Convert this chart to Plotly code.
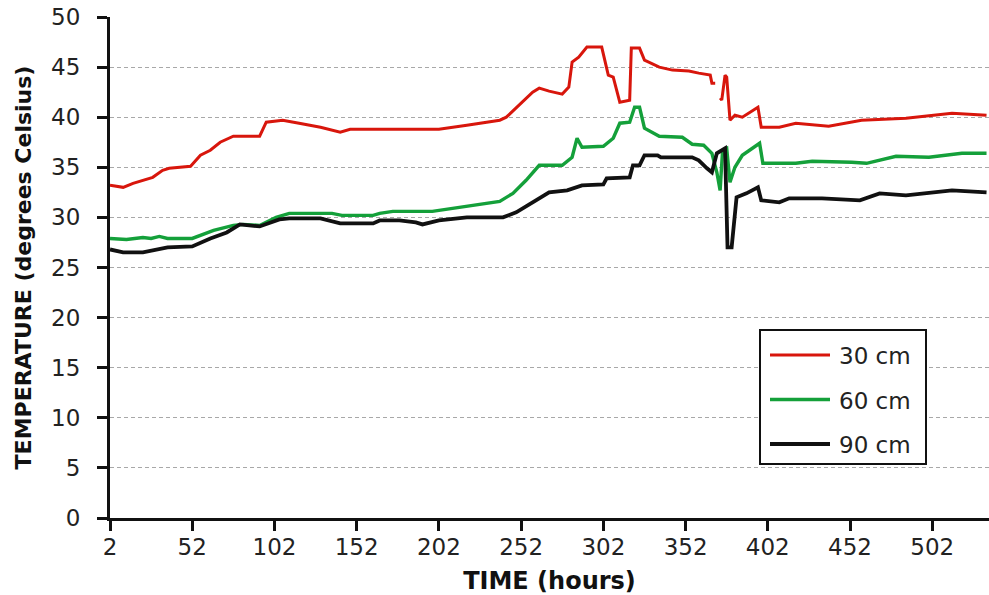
import plotly.graph_objects as go

# ---- data (hours, °C) ----
red_hours = [2, 10, 16, 28, 34, 38, 51, 57, 63, 69, 77, 93, 97, 107, 117, 130, 142, 148, 178, 202,
             219, 239, 243, 249, 259, 263, 269, 277, 281, 283, 287, 292, 301, 305, 308, 312, 318,
             319, 324, 327, 336, 344, 354, 360, 367, 368, 370, None, 373, 374, 376, 377, 379, 382,
             386.5, 396, 398, 409, 419, 439, 459, 486, 514, 535]
red_temps = [33.2, 33.0, 33.4, 34.0, 34.7, 34.9, 35.1, 36.2, 36.7, 37.5, 38.1, 38.1, 39.5, 39.7,
             39.4, 39.0, 38.5, 38.8, 38.8, 38.8, 39.2, 39.7, 40.0, 40.9, 42.5, 42.9, 42.6, 42.3,
             43.0, 45.5, 46.0, 47.0, 47.0, 44.2, 44.0, 41.5, 41.7, 46.9, 46.9, 45.7, 45.0, 44.7,
             44.6, 44.4, 44.2, 43.4, 43.4, None, 41.9, 41.7, 44.2, 44.0, 39.7, 40.2, 40.0, 41.0,
             39.0, 39.0, 39.4, 39.1, 39.7, 39.9, 40.4, 40.2]

green_hours = [2, 12, 22, 27, 32, 37, 52, 65, 77, 83, 93, 103, 111, 137, 143, 162, 166, 174, 198,
               219, 239, 247, 255, 263, 277, 283, 286, 289, 302, 308, 312, 318, 321, 324, 327, 336,
               350, 356, 363, 368, 371, 373, 374.5, 377, 379, 382, 386.5, 397, 399, 419, 429, 453,
               462, 480, 500, 520, 535]
green_temps = [27.9, 27.8, 28.0, 27.9, 28.1, 27.9, 27.9, 28.7, 29.2, 29.3, 29.2, 30.0, 30.4, 30.4,
               30.2, 30.2, 30.4, 30.6, 30.6, 31.1, 31.6, 32.4, 33.7, 35.2, 35.2, 36.0, 37.9, 37.0,
               37.1, 37.9, 39.4, 39.5, 41.0, 41.0, 38.9, 38.1, 38.0, 37.3, 37.2, 36.4, 34.5, 32.7,
               36.7, 36.9, 33.5, 35.0, 36.2, 37.4, 35.4, 35.4, 35.6, 35.5, 35.4, 36.1, 36.0, 36.4,
               36.4]

black_hours = [2, 10, 22, 28, 37, 52, 63, 73, 81, 93, 105, 111, 130, 142, 162, 166, 178, 188, 192,
               202, 219, 241, 249, 259, 269, 280, 289, 302, 304, 318, 320, 324, 327, 335, 337, 356,
               360, 365, 368, 371, 376, 377.5, 380, 383, 389, 396, 398, 409, 415, 435, 458, 470,
               486, 514, 535]
black_temps = [26.8, 26.5, 26.5, 26.7, 27.0, 27.1, 27.9, 28.5, 29.3, 29.1, 29.8, 29.9, 29.9, 29.4,
               29.4, 29.7, 29.7, 29.5, 29.3, 29.7, 30.0, 30.0, 30.5, 31.5, 32.5, 32.7, 33.2, 33.3,
               33.9, 34.0, 35.2, 35.2, 36.2, 36.2, 36.0, 36.0, 35.7, 34.9, 34.5, 36.4, 36.9, 27.0,
               27.0, 32.0, 32.4, 33.0, 31.7, 31.5, 31.9, 31.9, 31.7, 32.4, 32.2, 32.7, 32.5]

series_names = ["30 cm", "60 cm", "90 cm"]
series_colors = ["#d8160c", "#14a03a", "#111111"]
series_widths = [3.0, 3.4, 3.8]

x_ticks = [2, 52, 102, 152, 202, 252, 302, 352, 402, 452, 502]
y_ticks = [0, 5, 10, 15, 20, 25, 30, 35, 40, 45, 50]

W, H = 989, 595
ML, MR, MT, MB = 110, 0, 17, 77
PW, PH = W - ML - MR, H - MT - MB

fig = go.Figure()
for hrs, tmp, name, col, lw in zip([red_hours, green_hours, black_hours],
                                   [red_temps, green_temps, black_temps],
                                   series_names, series_colors, series_widths):
    fig.add_trace(go.Scatter(x=hrs, y=tmp, mode="lines", name=name,
                             line=dict(color=col, width=lw), connectgaps=False,
                             showlegend=False))

# ---- manual legend box (pixel positions converted to paper coords) ----
def px(x):
    return (x - ML) / PW

def py(y):
    return (H - MB - y) / PH

fig.add_shape(type="rect", xref="paper", yref="paper",
              x0=px(760), x1=px(926), y0=py(464), y1=py(330),
              line=dict(color="#111111", width=2), fillcolor="white", layer="above")
for i, (name, col, lw) in enumerate(zip(series_names, series_colors, series_widths)):
    yy = 355 + i * 44.5
    fig.add_shape(type="line", xref="paper", yref="paper",
                  x0=px(770), x1=px(830), y0=py(yy), y1=py(yy),
                  line=dict(color=col, width=lw), layer="above")
    fig.add_annotation(xref="paper", yref="paper", x=px(837), y=py(yy + 1),
                       text=name, showarrow=False, xanchor="left", yanchor="middle",
                       font=dict(family="DejaVu Sans", size=23, color="#222222"))

fig.update_layout(
    width=W, height=H,
    margin=dict(l=ML, r=MR, t=MT, b=MB, pad=0),
    paper_bgcolor="white", plot_bgcolor="white",
    font=dict(family="DejaVu Sans", size=23, color="#222222"),
    showlegend=False,
)
fig.update_xaxes(
    range=[2, 536.5], tickmode="array", tickvals=x_ticks,
    ticktext=[str(v) for v in x_ticks],
    showline=True, linewidth=3, linecolor="#111111",
    ticks="outside", ticklen=10, tickwidth=3, tickcolor="#111111",
    showgrid=False, zeroline=False,
    ticklabelstandoff=-4,
    title=dict(text="<b>TIME (hours)</b>", standoff=14,
               font=dict(family="DejaVu Sans", size=24, color="#111111")),
)
fig.update_yaxes(
    range=[0, 50], tickmode="array", tickvals=y_ticks,
    ticktext=[str(v) for v in y_ticks],
    showline=True, linewidth=3, linecolor="#111111",
    ticks="outside", ticklen=10, tickwidth=3, tickcolor="#111111",
    showgrid=True, gridcolor="#a8a8a8", gridwidth=1, griddash="4px,3px",
    zeroline=False,
    ticklabelstandoff=12,
    title=dict(text="<b>TEMPERATURE (degrees Celsius)</b>", standoff=14,
               font=dict(family="DejaVu Sans", size=22, color="#111111")),
)

fig.write_html("out.html",
               config={"displayModeBar": False},
               post_script="document.body.style.margin='0';document.body.style.overflow='hidden';")
